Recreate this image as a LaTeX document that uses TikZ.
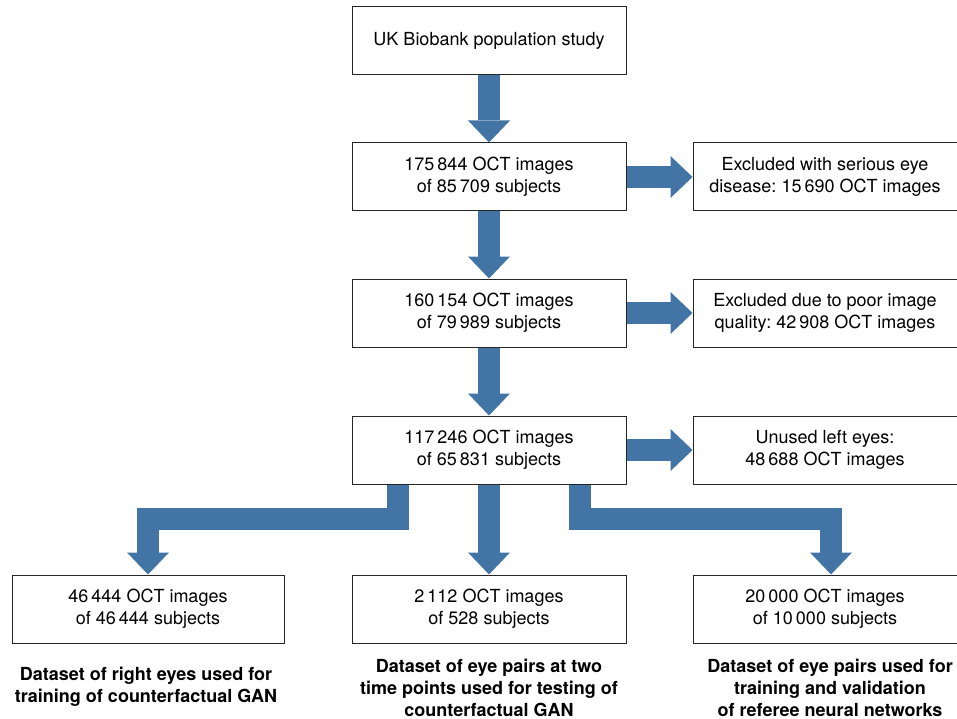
\documentclass[tikz,border=0pt]{standalone}
\usepackage{fontspec}
\setmainfont{TeX Gyre Heros}
\usetikzlibrary{arrows.meta}
\definecolor{arrowblue}{RGB}{67,116,166}
\frenchspacing
\begin{document}
\begin{tikzpicture}[x=1pt,y=-1pt,
  box/.style={draw=black!85, line width=1pt, minimum height=68pt, align=center,
    inner sep=0pt, font=\fontsize{18}{22}\selectfont},
  midbox/.style={box, minimum width=274pt},
  sidebox/.style={box, minimum width=264pt},
  lbl/.style={align=center, inner sep=0pt, font=\fontsize{18}{22}\selectfont\bfseries},
  bigarrow/.style={draw=arrowblue, line width=22pt, line join=miter,
    -{Triangle[width=42pt,length=22pt,line width=0pt]}}]
\useasboundingbox (0,0) rectangle (957,719);
\node[midbox] (b1) at (489,40.5) {UK Biobank population study};
\node[midbox] (b2) at (489,177) {175\,844 OCT images\\of 85\,709 subjects};
\node[midbox] (b3) at (489,313) {160\,154 OCT images\\of 79\,989 subjects};
\node[midbox] (b4) at (489,450) {117\,246 OCT images\\of 65\,831 subjects};
\node[sidebox] (r1) at (825,177) {Excluded with serious eye\\disease: 15\,690 OCT images};
\node[sidebox] (r2) at (825,313) {Excluded due to poor image\\quality: 42\,908 OCT images};
\node[sidebox] (r3) at (825,450) {Unused left eyes:\\48\,688 OCT images};
\node[box, minimum width=272pt] (d1) at (148,609) {46\,444 OCT images\\of 46\,444 subjects};
\node[midbox] (d2) at (489,609) {2\,112 OCT images\\of 528 subjects};
\node[sidebox] (d3) at (825,609) {20\,000 OCT images\\of 10\,000 subjects};
\node[lbl] (l1) at (146,687) {Dataset of right eyes used for\\training of counterfactual GAN};
\node[lbl] (l2) at (489,687.5) {Dataset of eye pairs at two\\time points used for testing of\\counterfactual GAN};
\node[lbl] (l3) at (830,687.5) {Dataset of eye pairs used for\\training and validation\\of referee neural networks};
\draw[bigarrow] (b1.south) -- (b2.north);
\draw[bigarrow] (b2.south) -- (b3.north);
\draw[bigarrow] (b3.south) -- (b4.north);
\draw[bigarrow] (b2.east) -- (r1.west);
\draw[bigarrow] (b3.east) -- (r2.west);
\draw[bigarrow] (b4.east) -- (r3.west);
\draw[bigarrow] (b4.south) -- (d2.north);
\draw[bigarrow] ([xshift=-91pt]b4.south) -- ++(0,34) -| (d1.north);
\draw[bigarrow] ([xshift=91pt]b4.south) -- ++(0,34) -| ([xshift=6pt]d3.north);
\end{tikzpicture}
\end{document}
